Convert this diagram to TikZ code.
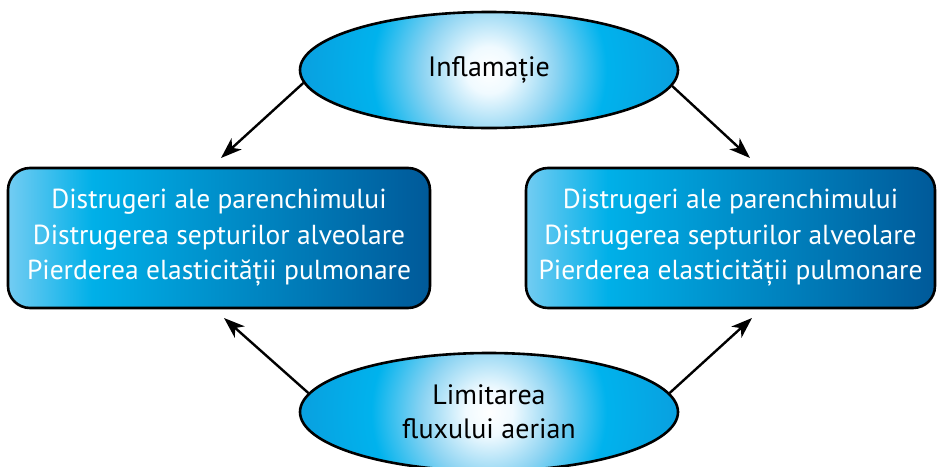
\documentclass[tikz,border=0pt]{standalone}
\usepackage{fontspec}
\setmainfont{PT Sans}
\usetikzlibrary{shapes.geometric,arrows.meta}
\pgfdeclarehorizontalshading{boxshade}{100bp}{rgb(0bp)=(0.45,0.80,0.95); rgb(25bp)=(0.45,0.80,0.95); rgb(35bp)=(0,0.69,0.91); rgb(75bp)=(0,0.35,0.60); rgb(100bp)=(0,0.35,0.60)}
\pgfdeclareradialshading{ellshade}{\pgfpoint{0bp}{0bp}}{rgb(0bp)=(1,1,1); rgb(3bp)=(0.94,0.98,1); rgb(8.5bp)=(0.55,0.83,0.95); rgb(15bp)=(0,0.70,0.93); rgb(25bp)=(0.04,0.62,0.87); rgb(50bp)=(0.04,0.62,0.87)}
\tikzset{
  ellnode/.style={ellipse, draw=black, line width=2.6pt, minimum width=378pt, minimum height=116pt, inner sep=0pt, align=center,
    font=\fontsize{28}{34}\selectfont,
    path picture={\shade[shading=ellshade] (path picture bounding box.center) circle (196pt);}},
  boxnode/.style={rectangle, rounded corners=22pt, draw=black, line width=2.6pt, shading=boxshade, text=white,
    minimum height=140pt, inner sep=0pt, align=center, font=\fontsize{27.5}{35.5}\selectfont},
  arr/.style={line width=2.4pt, -{Stealth[length=21pt,width=15pt,inset=6pt]}}
}
\begin{document}
\begin{tikzpicture}[x=1pt,y=-1pt]
\useasboundingbox (0,0) rectangle (937,466);
\node[ellnode] (top) at (489,70) {Inflamație};
\node[ellnode, minimum height=118pt] (bot) at (489,412) {Limitarea\\fluxului aerian};
\node[boxnode, minimum width=422pt] (lbox) at (219,238) {Distrugeri ale parenchimului\\Distrugerea septurilor alveolare\\Pierderea elasticității pulmonare};
\node[boxnode, minimum width=409pt] (rbox) at (730.5,238) {Distrugeri ale parenchimului\\Distrugerea septurilor alveolare\\Pierderea elasticității pulmonare};
\coordinate (lt) at (221,158);
\coordinate (rt) at (750,158);
\coordinate (lb) at (224,318);
\coordinate (rb) at (752,318);
\draw[arr] (top.184.7) -- (lt);
\draw[arr] (top.355.4) -- (rt);
\draw[arr] (bot.174) -- (lb);
\draw[arr] (bot.6.7) -- (rb);
\end{tikzpicture}
\end{document}
